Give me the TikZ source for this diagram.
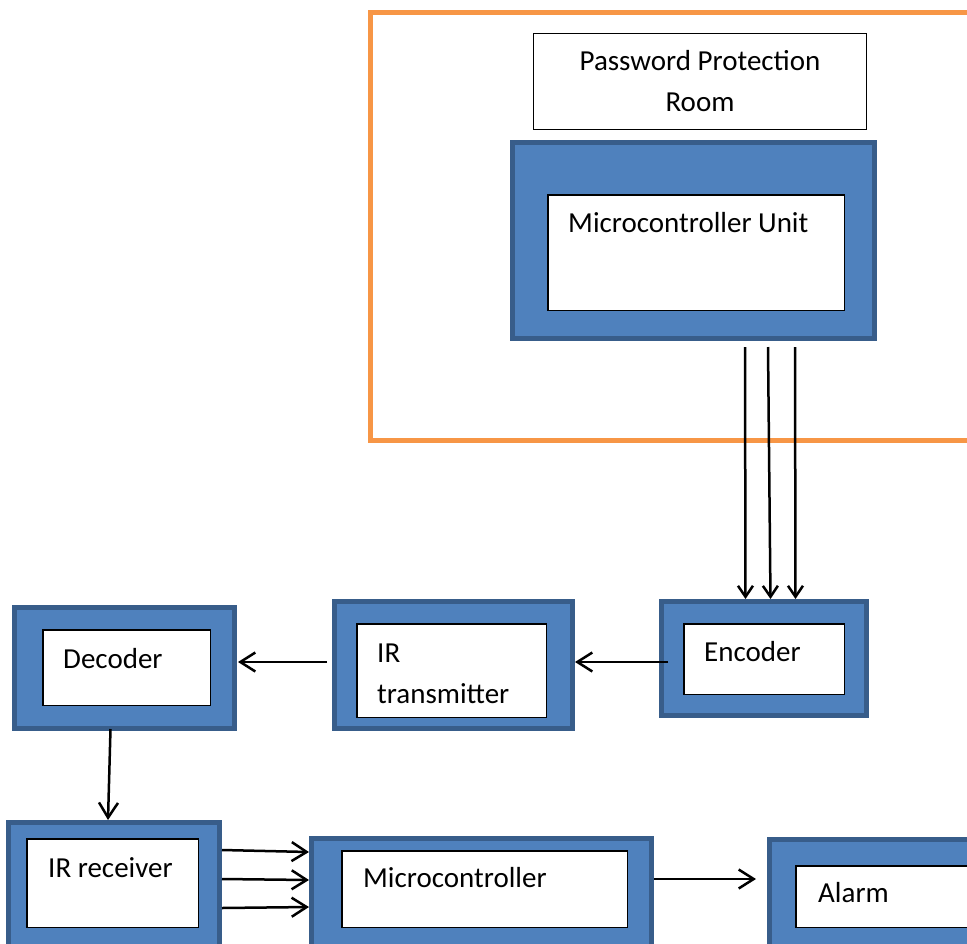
\documentclass[tikz,border=0pt]{standalone}
\usepackage{fontspec}
\setmainfont{Carlito}
\usetikzlibrary{arrows.meta}
\definecolor{blockfill}{HTML}{4F81BD}
\definecolor{blockline}{HTML}{385D8A}
\definecolor{roomline}{HTML}{F79646}
\tikzset{
  outerblock/.style={draw=blockline, fill=blockfill, line width=5pt, inner sep=0pt},
  innerblock/.style={draw=black, fill=white, line width=1.5pt, inner sep=0pt},
  blocktext/.style={font=\fontsize{29}{41}\selectfont, inner sep=0pt, anchor=base west, align=left},
  sig/.style={line width=2.5pt, -{Straight Barb[length=15pt,width=19pt]}},
  bus/.style={line width=2.5pt, -{Straight Barb[length=11pt,width=15pt]}},
}
\begin{document}
\begin{tikzpicture}[x=1pt, y=-1pt]
  \useasboundingbox (0,0) rectangle (967,943);
  \clip (0,0) rectangle (967,943);
  % password protection room
  \draw[roomline, line width=5pt] (1000,12.5) -- (370,12.5) -- (370,440) -- (1000,440);
  \node[draw, line width=1pt, minimum width=333pt, minimum height=96pt,
        align=center, font=\fontsize{29}{41}\selectfont] (pw) at (700,81.5)
        {Password Protection\\Room};
  \node[outerblock, minimum width=362pt, minimum height=196pt] (mcu) at (693.5,240.5) {};
  \node[innerblock, minimum width=296.5pt, minimum height=115.5pt] (mcuin) at (696,252.5) {};
  \node[blocktext] at ([shift={(21,38)}]mcuin.north west) {Microcontroller Unit};
  % transmitting side
  \node[outerblock, minimum width=205pt, minimum height=114pt] (enc) at (764,658.5) {};
  \node[innerblock, minimum width=160.5pt, minimum height=70.5pt] (encin) at (764,659) {};
  \node[blocktext] at ([shift={(21,38)}]encin.north west) {Encoder};
  \node[outerblock, minimum width=238pt, minimum height=127pt] (irt) at (453.5,665) {};
  \node[innerblock, minimum width=189.5pt, minimum height=93.5pt] (irtin) at (451.5,670.5) {};
  \node[blocktext] at ([shift={(21,80)}]irtin.north west) {IR\\transmitter};
  \node[outerblock, minimum width=220pt, minimum height=121pt] (dec) at (124.5,668) {};
  \node[innerblock, minimum width=167.5pt, minimum height=75.5pt] (decin) at (126.5,667.5) {};
  \node[blocktext] at ([shift={(21,39)}]decin.north west) {Decoder};
  % receiving side
  \node[outerblock, minimum width=211pt, minimum height=143pt] (irr) at (114,894) {};
  \node[innerblock, minimum width=171.5pt, minimum height=88.5pt] (irrin) at (112.5,883) {};
  \node[blocktext] at ([shift={(22,39)}]irrin.north west) {IR receiver};
  \node[outerblock, minimum width=340pt, minimum height=127pt] (mc) at (481.5,902) {};
  \node[innerblock, minimum width=285.5pt, minimum height=76.5pt] (mcin) at (484.5,889) {};
  \node[blocktext] at ([shift={(22,37)}]mcin.north west) {Microcontroller};
  \node[outerblock, minimum width=228pt, minimum height=126pt] (al) at (883.5,902.5) {};
  \node[innerblock, minimum width=203.5pt, minimum height=61.5pt] (alin) at (897.5,896.5) {};
  \node[blocktext] at ([shift={(23,37)}]alin.north west) {Alarm};
  % connections
  \foreach \s/\t in {51.5/-18.5, 74.5/6.5, 101.5/31.5}
    \draw[bus] ([shift={(\s,6)}]mcu.south) -- ([shift={(\t,0)}]enc.north);
  \draw[sig] ([shift={(9,3.5)}]enc.west) -- ([shift={(0,-3)}]irt.east);
  \draw[sig] ([shift={(-5,-3)}]irt.west) -- ([shift={(1,-6)}]dec.east);
  \draw[sig] ([shift={(-14,-2)}]dec.south) -- ([xshift=-6pt]irr.north);
  \foreach \s/\t in {-44/-50, -15/-22, 14/5}
    \draw[sig] ([shift={(0,\s)}]irr.east) -- ([shift={(0,\t)}]mc.west);
  \draw[sig] ([shift={(0,-23)}]mc.east) -- ([shift={(-11,-23.5)}]al.west);
\end{tikzpicture}
\end{document}
